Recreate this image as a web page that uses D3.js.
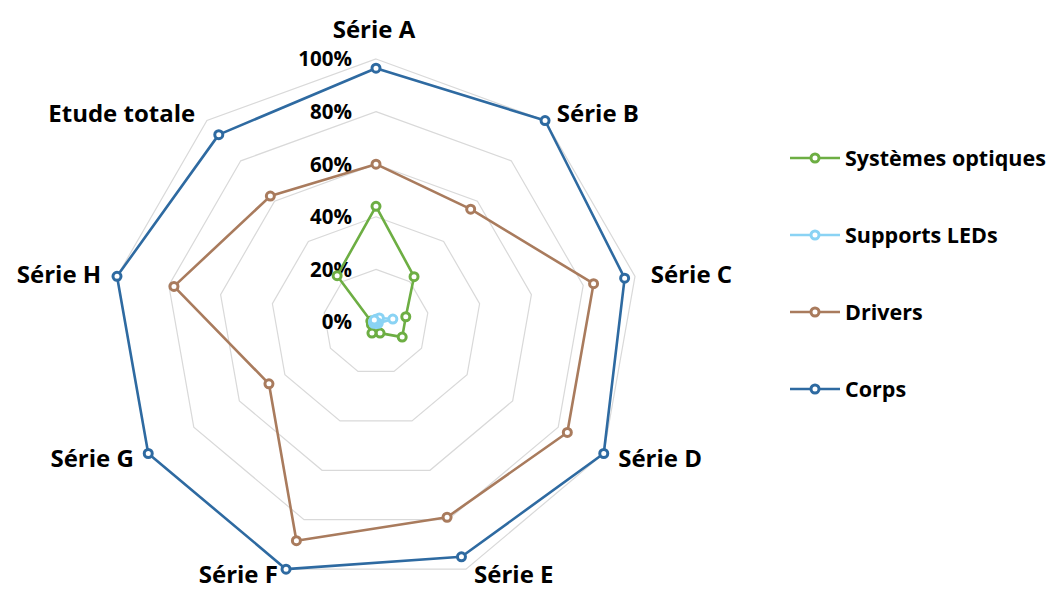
<!DOCTYPE html>
<html>
<head>
<meta charset="utf-8">
<script src="https://cdn.jsdelivr.net/npm/d3@7"></script>
<style>
  html, body { margin: 0; padding: 0; background: #ffffff; }
  svg { display: block; }
  text { font-family: "Open Sans", "DejaVu Sans", sans-serif; font-weight: 700; fill: #000; }
</style>
</head>
<body>
<svg id="chart" width="1051" height="590"></svg>
<script>
// ---- data ----
const categories = ["Série A", "Série B", "Série C", "Série D", "Série E", "Série F", "Série G", "Série H", "Etude totale"];
const seriesNames = ["Systèmes optiques", "Supports LEDs", "Drivers", "Corps"];
const systemesOptiques = [44, 22.5, 11.5, 11.5, 4.5, 4.5, 2, 2, 23];
const supportsLEDs = [1, 2, 6.5, 1, 0.5, 0.5, 1, 1, 1];
const drivers = [60, 56, 84, 84, 79, 88.5, 47, 78, 62.5];
const corps = [96.5, 100, 96, 100, 95, 100, 100, 100, 93];
const tickValues = [0, 20, 40, 60, 80, 100];
const tickLabels = ["0%", "20%", "40%", "60%", "80%", "100%"];
const colors = ["#6DAE43", "#8AD3F4", "#A97B5D", "#2E6AA1"];

const seriesValues = [systemesOptiques, supportsLEDs, drivers, corps];

// ---- layout ----
const svg = d3.select("#chart");
const cx = 376, cy = 322, R = 263;
const n = categories.length;

const r = d3.scaleLinear().domain([0, 100]).range([0, R]);
const angle = d3.scaleLinear().domain([0, n]).range([0, 2 * Math.PI]);

const g = svg.append("g").attr("transform", `translate(${cx},${cy})`);

// grid rings (no spokes)
const ringLine = d3.lineRadial()
  .angle((d, i) => angle(i))
  .radius(d => r(d))
  .curve(d3.curveLinearClosed);

tickValues.filter(v => v > 0).forEach(v => {
  g.append("path")
    .attr("d", ringLine(d3.range(n).map(() => v)))
    .attr("fill", "none")
    .attr("stroke", "#D9D9D9")
    .attr("stroke-width", 1.2);
});

// tick labels
g.selectAll("text.tick")
  .data(tickValues)
  .join("text")
  .attr("class", "tick")
  .attr("x", -24)
  .attr("y", d => -r(d))
  .attr("dy", "0.36em")
  .attr("text-anchor", "end")
  .style("font-size", "20.5px")
  .text((d, i) => tickLabels[i]);

// category labels
const pt = (v, i) => {
  const a = angle(i);
  return [r(v) * Math.sin(a), -r(v) * Math.cos(a)];
};
const maxLabelY = 590 - cy - 16;
g.selectAll("text.cat")
  .data(categories)
  .join("text")
  .attr("class", "cat")
  .each(function(d, i) {
    const a = angle(i);
    const s = Math.sin(a), c = Math.cos(a);
    const [vx, vy] = pt(100, i);
    const t = d3.select(this);
    if (Math.abs(s) < 0.1) {
      t.attr("x", vx - 2).attr("y", vy - 30).attr("text-anchor", "middle");
    } else {
      const gap = 4 + 12 * Math.abs(s);
      t.attr("x", vx + (s > 0 ? gap : -gap))
       .attr("y", Math.min(vy - 9 * c, maxLabelY))
       .attr("text-anchor", s > 0 ? "start" : "end");
    }
    t.attr("dy", "0.36em").style("font-size", "24px").text(d);
  });

// series
const seriesLine = d3.lineRadial()
  .angle((d, i) => angle(i))
  .radius(d => r(d))
  .curve(d3.curveLinearClosed);

seriesValues.forEach((vals, si) => {
  const sg = g.append("g");
  sg.append("path")
    .attr("d", seriesLine(vals))
    .attr("fill", "none")
    .attr("stroke", colors[si])
    .attr("stroke-width", 2.6)
    .attr("stroke-linejoin", "round");
  sg.selectAll("circle")
    .data(vals)
    .join("circle")
    .attr("cx", (d, i) => pt(d, i)[0])
    .attr("cy", (d, i) => pt(d, i)[1])
    .attr("r", 4)
    .attr("fill", "#ffffff")
    .attr("stroke", colors[si])
    .attr("stroke-width", 3);
});

// legend
const legendY = d3.scalePoint().domain(seriesNames).range([158, 389]);
const lg = svg.append("g");
seriesNames.forEach((name, si) => {
  const y = legendY(name);
  lg.append("line")
    .attr("x1", 790).attr("x2", 840).attr("y1", y).attr("y2", y)
    .attr("stroke", colors[si]).attr("stroke-width", 2.6);
  lg.append("circle")
    .attr("cx", 815).attr("cy", y).attr("r", 4)
    .attr("fill", "#ffffff").attr("stroke", colors[si]).attr("stroke-width", 3);
  lg.append("text")
    .attr("x", 845).attr("y", y).attr("dy", "0.36em")
    .style("font-size", "21.5px")
    .text(name);
});
</script>
</body>
</html>
